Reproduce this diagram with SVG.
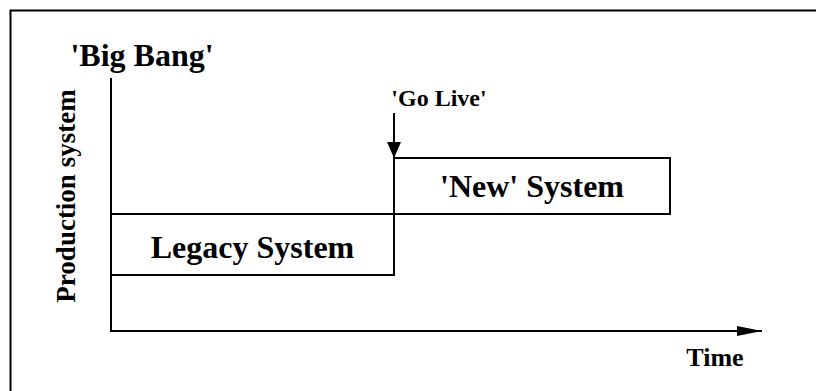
<svg xmlns="http://www.w3.org/2000/svg" width="816" height="391" viewBox="0 0 816 391">
<style>
  .ln { stroke: #000; stroke-width: 2; fill: none; }
  .box { stroke: #000; stroke-width: 2; fill: #fff; }
  .t { font-family: "Liberation Serif", "Times New Roman", serif; font-weight: bold; fill: #000; text-anchor: middle; }
</style>
<defs>
  <marker id="ahBig" viewBox="0 0 25 10" refX="25" refY="5" markerWidth="25" markerHeight="10" markerUnits="userSpaceOnUse" orient="auto">
    <path d="M0,0 L25,5 L0,10 Z" fill="#000"/>
  </marker>
  <marker id="ahSmall" viewBox="0 0 16 14" refX="16" refY="7" markerWidth="16" markerHeight="14" markerUnits="userSpaceOnUse" orient="auto">
    <path d="M0,0 L16,7 L0,14 Z" fill="#000"/>
  </marker>
</defs>
<rect x="0" y="0" width="816" height="391" fill="#fff"/>
<rect id="frame" class="ln" x="10.5" y="10.5" width="830" height="420"/>
<g id="legacy">
  <rect class="box" x="111" y="214" width="283" height="61"/>
  <text class="t" x="252.5" y="258" font-size="32">Legacy System</text>
</g>
<g id="new">
  <rect class="box" x="394" y="158" width="276" height="56"/>
  <text class="t" x="532" y="197" font-size="32">'New' System</text>
</g>
<g id="connectors">
  <line class="ln" x1="111" y1="78" x2="111" y2="331"/>
  <line class="ln" x1="110" y1="331" x2="762" y2="331" marker-end="url(#ahBig)"/>
  <line class="ln" x1="394" y1="113" x2="394" y2="158" marker-end="url(#ahSmall)"/>
</g>
<g id="labels">
  <text class="t" x="142" y="66" font-size="32">'Big Bang'</text>
  <text class="t" x="439" y="106" font-size="24">'Go Live'</text>
  <text class="t" x="715" y="366" font-size="26">Time</text>
  <text class="t" transform="translate(75,196) rotate(-90)" x="0" y="0" font-size="27">Production system</text>
</g>
</svg>
